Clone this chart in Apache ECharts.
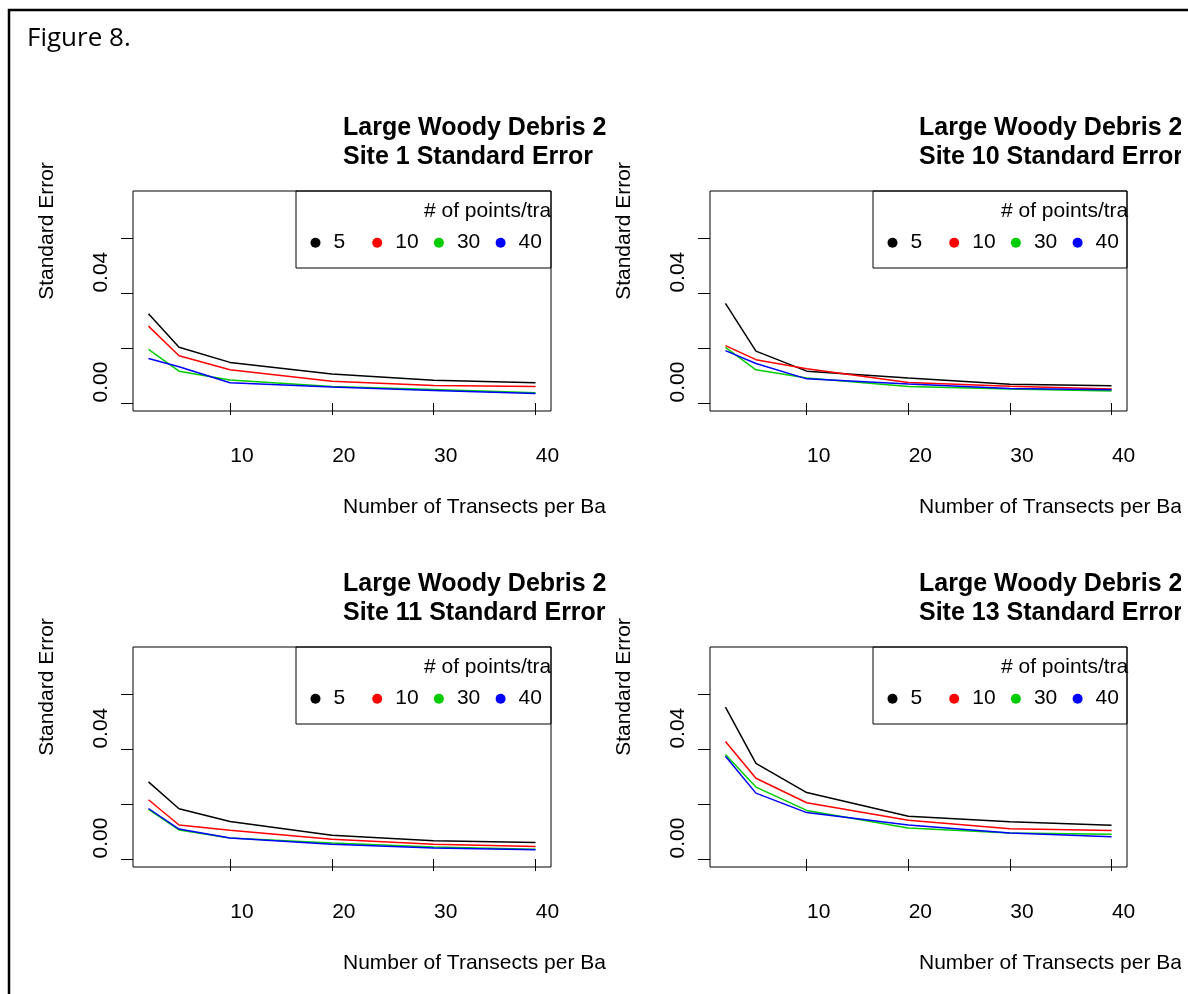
<!DOCTYPE html>
<html><head><meta charset="utf-8">
<script src="https://cdn.jsdelivr.net/npm/echarts@6/dist/echarts.min.js"></script>
<style>html,body{margin:0;padding:0;background:#fff}#c{width:1188px;height:994px}</style>
</head><body><div id="c"></div>
<script>
// ---------- data ----------
const transects = [2, 5, 10, 20, 30, 40];
const pointCounts = ['5', '10', '30', '40'];
const seriesColors = ['#000000', '#FF0000', '#00CD00', '#0000FF'];
const xTicks = [10, 20, 30, 40];
const yTicks = [0, 0.02, 0.04, 0.06];
const yTickLabels = [0, 0.04];
const siteNames = ['Site 1', 'Site 10', 'Site 11', 'Site 13'];

const site1_p5  = [0.0325, 0.0203, 0.0148, 0.0106, 0.0083, 0.0074];
const site1_p10 = [0.0280, 0.0172, 0.0121, 0.0079, 0.0064, 0.0060];
const site1_p30 = [0.0195, 0.0116, 0.0084, 0.0060, 0.0049, 0.0037];
const site1_p40 = [0.0162, 0.0132, 0.0074, 0.0058, 0.0046, 0.0035];

const site10_p5  = [0.0363, 0.0189, 0.0116, 0.0091, 0.0068, 0.0063];
const site10_p10 = [0.0209, 0.0158, 0.0125, 0.0075, 0.0061, 0.0051];
const site10_p30 = [0.0203, 0.0121, 0.0091, 0.0060, 0.0051, 0.0044];
const site10_p40 = [0.0191, 0.0144, 0.0088, 0.0069, 0.0053, 0.0048];

const site11_p5  = [0.0281, 0.0183, 0.0137, 0.0087, 0.0067, 0.0060];
const site11_p10 = [0.0216, 0.0124, 0.0105, 0.0072, 0.0054, 0.0046];
const site11_p30 = [0.0181, 0.0106, 0.0077, 0.0058, 0.0044, 0.0036];
const site11_p40 = [0.0184, 0.0109, 0.0077, 0.0054, 0.0040, 0.0034];

const site13_p5  = [0.0553, 0.0348, 0.0242, 0.0156, 0.0136, 0.0123];
const site13_p10 = [0.0428, 0.0294, 0.0205, 0.0141, 0.0110, 0.0104];
const site13_p30 = [0.0381, 0.0262, 0.0177, 0.0113, 0.0095, 0.0090];
const site13_p40 = [0.0374, 0.0240, 0.0169, 0.0124, 0.0095, 0.0081];

const panelData = [
  [site1_p5, site1_p10, site1_p30, site1_p40],
  [site10_p5, site10_p10, site10_p30, site10_p40],
  [site11_p5, site11_p10, site11_p30, site11_p40],
  [site13_p5, site13_p10, site13_p30, site13_p40]
];

// ---------- layout ----------
const FONT = 'Liberation Sans, Arial, sans-serif';
const panelLeft = [133, 710, 133, 710];
const panelTop = [191, 191, 647, 647];
const panelW = [418, 417, 418, 417];
const panelH = 220;
const dx = [0, 576, 0, 576];
const dy = [0, 0, 456, 456];

const grids = [], xAxes = [], yAxes = [], series = [], legends = [], graphics = [];

for (let i = 0; i < 4; i++) {
  grids.push({ left: panelLeft[i], top: panelTop[i], width: panelW[i], height: panelH,
    show: true, borderColor: '#000', borderWidth: 1, backgroundColor: 'transparent' });
  xAxes.push({ type: 'value', gridIndex: i, min: 0.48, max: 41.52,
    axisLine: { show: false }, splitLine: { show: false },
    axisTick: { show: true, length: 12, customValues: xTicks, lineStyle: { color: '#000', width: 1 } },
    axisLabel: { customValues: xTicks, fontSize: 21, fontFamily: FONT, color: '#000',
      margin: 35, padding: [0, 0, 0, 24] } });
  yAxes.push({ type: 'value', gridIndex: i, min: -0.0029, max: 0.0772,
    axisLine: { show: false }, splitLine: { show: false },
    axisTick: { show: true, length: 12, customValues: yTicks, lineStyle: { color: '#000', width: 1 } },
    axisLabel: { customValues: yTickLabels, rotate: 90, fontSize: 21, fontFamily: FONT, color: '#000',
      margin: 21, padding: [0, 0, 0, 42], formatter: v => v.toFixed(2) } });
  panelData[i].forEach((arr, j) => {
    series.push({ type: 'line', name: pointCounts[j], xAxisIndex: i, yAxisIndex: i,
      data: transects.map((x, k) => [x, arr[k]]),
      showSymbol: false, symbol: 'circle', silent: true,
      lineStyle: { color: seriesColors[j], width: 1.5 }, itemStyle: { color: seriesColors[j] } });
    // one legend entry per item, laid out on R's fixed column spacing
    legends.push({ data: [pointCounts[j]], left: panelLeft[i] + 177.5 + j * 61.7, top: 231.7 + dy[i],
      padding: 0, itemWidth: 26, itemHeight: 10, icon: 'circle', selectedMode: false,
      textStyle: { fontSize: 21, fontFamily: FONT, color: '#000', lineHeight: 22 } });
  });

  // legend box
  graphics.push({ type: 'rect', z: 40, shape: { x: panelLeft[i] + 163, y: panelTop[i], width: panelW[i] - 163, height: 77 },
    style: { fill: 'none', stroke: '#000', lineWidth: 1 } });
  // titles
  graphics.push({ type: 'text', x: 343 + dx[i], y: 128 + dy[i], z: 50,
    style: { text: 'Large Woody Debris 2', font: 'bold 25px ' + FONT, fill: '#000', textVerticalAlign: 'middle' } });
  graphics.push({ type: 'text', x: 343 + dx[i], y: 157 + dy[i], z: 50,
    style: { text: siteNames[i] + ' Standard Error', font: 'bold 25px ' + FONT, fill: '#000', textVerticalAlign: 'middle' } });
  // legend title
  graphics.push({ type: 'text', x: panelLeft[i] + 291, y: 211.5 + dy[i], z: 50,
    style: { text: '# of points/tra', font: '21px ' + FONT, fill: '#000', textVerticalAlign: 'middle' } });
  // y axis name
  graphics.push({ type: 'text', x: 47.5 + dx[i] + (i % 2 ? 1 : 0), y: 231 + dy[i], rotation: Math.PI / 2, z: 50,
    style: { text: 'Standard Error', font: '21px ' + FONT, fill: '#000', textAlign: 'center', textVerticalAlign: 'middle' } });
  // x axis name
  graphics.push({ type: 'text', x: 343 + dx[i], y: 507 + dy[i], z: 50,
    style: { text: 'Number of Transects per Ba', font: '21px ' + FONT, fill: '#000', textVerticalAlign: 'middle' } });
}

// figure label and frame
graphics.push({ type: 'text', x: 27, y: 39, z: 50,
  style: { text: 'Figure 8.', font: '26px Open Sans, sans-serif', fill: '#000', textVerticalAlign: 'middle' } });
graphics.push({ type: 'rect', z: 60, shape: { x: 9, y: 10, width: 1300, height: 1100 },
  style: { fill: 'none', stroke: '#000', lineWidth: 2.5 } });
// page clipping at right edge
graphics.push({ type: 'rect', z: 55, shape: { x: 1181, y: 20, width: 10, height: 980 },
  style: { fill: '#fff' } });

const chart = echarts.init(document.getElementById('c'), null, { renderer: 'canvas' });
chart.setOption({
  animation: false,
  backgroundColor: '#fff',
  grid: grids, xAxis: xAxes, yAxis: yAxes, series: series, legend: legends,
  graphic: { elements: graphics }
});
</script></body></html>
